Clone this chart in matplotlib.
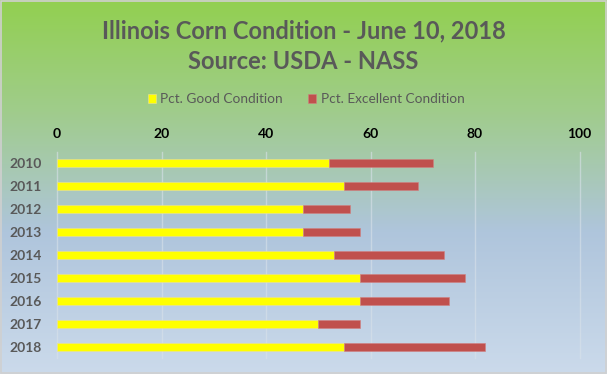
import matplotlib.pyplot as plt
import numpy as np
from matplotlib.colors import LinearSegmentedColormap

years = ['2010', '2011', '2012', '2013', '2014', '2015', '2016', '2017', '2018']
good = [52, 55, 47, 47, 53, 58, 58, 50, 55]
excellent = [20, 14, 9, 11, 21, 20, 17, 8, 27]

plt.rcParams['font.family'] = ['Lato', 'DejaVu Sans']

fig = plt.figure(figsize=(6.07, 3.74), dpi=100)

# gradient background
bg = fig.add_axes([0, 0, 1, 1], zorder=-10)
cmap = LinearSegmentedColormap.from_list('bg', [
    (0.0, '#92d050'), (0.3, '#a0cc8c'), (0.62, '#afc5dc'), (1.0, '#cbdaeb')])
bg.imshow(np.linspace(0, 1, 256).reshape(-1, 1), aspect='auto', cmap=cmap,
          extent=[0, 1, 0, 1], origin='upper')
bg.set_xlim(0, 1)
bg.set_ylim(0, 1)
bg.axis('off')
bg.add_patch(plt.Rectangle((0.001, 0.002), 0.997, 0.995, fill=False,
                           edgecolor='#d0d0d0', lw=1.2))

ax = fig.add_axes([57 / 607, 16 / 374, 522.5 / 607, 206 / 374])
ax.patch.set_alpha(0)
y = np.arange(len(years))
ax.barh(y, good, height=0.35, color='#ffff00', edgecolor='#e8e0a0', lw=0.4,
        label='Pct. Good Condition', zorder=3)
ax.barh(y, excellent, left=good, height=0.35, color='#c0504d',
        edgecolor='#d08080', lw=0.4, label='Pct. Excellent Condition', zorder=3)
ax.set_xlim(0, 100)
ax.set_ylim(len(years) - 0.52, -0.48)
ax.set_xticks(range(0, 101, 20))
ax.xaxis.tick_top()
ax.tick_params(axis='x', length=0, pad=9, labelsize=10, labelcolor='black')
ax.tick_params(axis='y', length=0, pad=11, labelsize=10, labelcolor='#595959')
for lab in ax.get_xticklabels() + ax.get_yticklabels():
    lab.set_fontweight('bold')
ax.set_yticks(y)
ax.set_yticklabels(years)
ax.grid(axis='x', color='#d9e2ea', lw=1, alpha=0.6, zorder=0)
for line in ax.get_xgridlines():
    line.set_clip_on(False)
for s in ax.spines.values():
    s.set_visible(False)

fig.text(0.5, 0.918, 'Illinois Corn Condition - June 10, 2018', ha='center',
         va='center', fontsize=17, fontweight='bold', color='#595959')
fig.text(0.5, 0.835, 'Source: USDA - NASS', ha='center', va='center',
         fontsize=17, fontweight='bold', color='#595959')

fig.legend(loc='center', bbox_to_anchor=(0.504, 0.735), ncol=2, frameon=False,
           fontsize=9.8, labelcolor='#595959', handlelength=0.65, handleheight=0.65,
           handletextpad=0.3, columnspacing=1.8)

fig.savefig('out.png', dpi=100)
